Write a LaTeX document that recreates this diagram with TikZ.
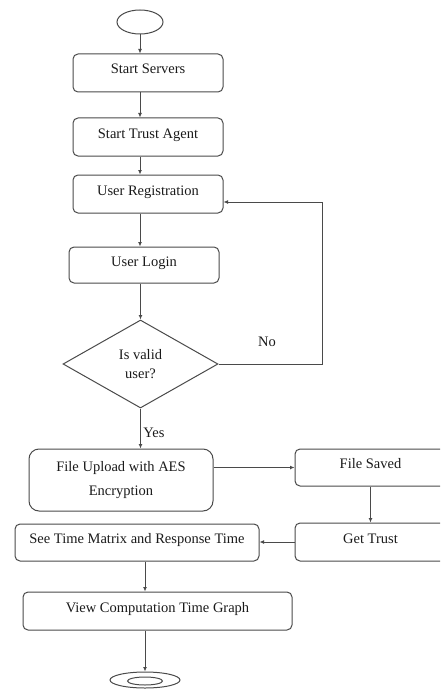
\documentclass[tikz,border=0pt]{standalone}
\usepackage{fontspec}
\setmainfont{Liberation Serif}
\usetikzlibrary{shapes.geometric,arrows.meta}
\definecolor{ln}{HTML}{4A4A4A}
\definecolor{tx}{HTML}{1A1A1A}
\begin{document}
\begin{tikzpicture}[x=1pt,y=-1pt,
  every node/.style={font=\fontsize{14.5}{17}\selectfont, text=tx},
  box/.style={draw=ln, line width=1pt, rounded corners=5pt, rectangle, inner sep=0pt, text height=10pt, text depth=8pt},
  bigbox/.style={draw=ln, line width=1pt, rounded corners=10pt, rectangle, inner sep=0pt, align=center},
  term/.style={draw=ln, line width=1pt, ellipse, inner sep=0pt},
  dia/.style={draw=ln, line width=1pt, diamond, inner sep=0pt, align=center},
  arr/.style={draw=ln, line width=1pt, -{Latex[length=4.5pt,width=4pt]}},
  lbl/.style={font=\fontsize{14.5}{17}\selectfont}
]
\useasboundingbox (0,0) rectangle (440,690);
\clip (0,0) rectangle (440,690);
\node[term, minimum width=46pt, minimum height=24pt] (start) at (140,22) {};
\node[box, minimum width=150pt, minimum height=38pt] (ss) at (148,73) {Start Servers};
\node[box, minimum width=150pt, minimum height=38pt] (sta) at (148,137) {Start Trust Agent};
\node[box, minimum width=150pt, minimum height=38pt] (ur) at (148,194) {User Registration};
\node[box, minimum width=150pt, minimum height=36pt] (ul) at (144,265) {User Login};
\node[dia, minimum width=155pt, minimum height=88pt] (dec) at (140.5,364) {Is valid\\[2pt]user?};
\node[bigbox, minimum width=184pt, minimum height=62pt] (fu) at (121,480) {File Upload with AES\\[7pt]Encryption};
\node[box, minimum width=151pt, minimum height=37pt] (fs) at (370.5,467.5) {File Saved};
\node[box, minimum width=151pt, minimum height=38pt] (gt) at (370.5,542) {Get Trust};
\node[box, minimum width=244pt, minimum height=37pt] (sm) at (137,542.5) {See Time Matrix and Response Time};
\node[box, minimum width=269pt, minimum height=38pt] (vc) at (157.5,611) {View Computation Time Graph};
\node[term, minimum width=70pt, minimum height=16pt] (end) at (145,680) {};
\node[term, minimum width=35pt, minimum height=8pt] (endin) at (145,681) {};
\coordinate (loop) at (322,202);

\draw[arr] (start.south) -- (start.south |- ss.north);
\draw[arr] (ss.south -| start.south) -- (sta.north -| start.south);
\draw[arr] (sta.south -| start.south) -- (ur.north -| start.south);
\draw[arr] (ur.south -| start.south) -- (ul.north -| start.south);
\draw[arr] (ul.south -| dec.north) -- (dec.north);
\draw[arr] (dec.south) -- (dec.south |- fu.north) node[lbl, pos=0.6, right, xshift=-1pt] {Yes};
\draw[arr] (dec.east) -| (loop) -- (loop -| ur.east);
\node[lbl] (no) at (267,342) {No};
\draw[arr] (fs.west -| fu.east) -- (fs.west);
\draw[arr] (fs.south) -- (gt.north);
\draw[arr] (gt.west) -- (gt.west -| sm.east);
\draw[arr] (sm.south -| end.north) -- (vc.north -| end.north);
\draw[arr] (vc.south -| end.north) -- (end.north);
\end{tikzpicture}
\end{document}
